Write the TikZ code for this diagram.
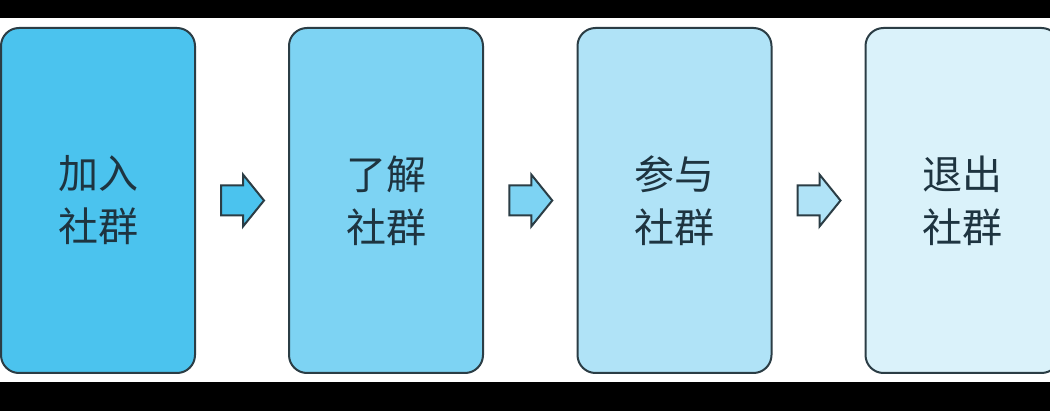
\documentclass[tikz,border=0pt]{standalone}
\usepackage{fontspec}
\newfontfamily\cjk{Noto Sans CJK SC}
\usetikzlibrary{calc}
\definecolor{cA}{HTML}{4BC3EE}
\definecolor{cB}{HTML}{7DD3F3}
\definecolor{cC}{HTML}{B0E3F7}
\definecolor{cD}{HTML}{DAF2FA}
\definecolor{edge}{HTML}{2B3D45}
\definecolor{ink}{HTML}{1E3440}
\tikzset{
  stagebox/.style={draw=edge, line width=2pt, rounded corners=18pt,
    minimum width=194pt, minimum height=345pt, inner sep=0pt,
    text=ink, align=center, font=\cjk\fontsize{40}{53}\selectfont},
  blockarrow/.style={draw=edge, line width=2pt, line join=miter}
}
\begin{document}
\begin{tikzpicture}[x=1pt,y=-1pt]
\fill[white] (0,0) rectangle (1050,411);
\clip (0,0) rectangle (1050,411);
\fill[black] (0,0) rectangle (1050,18);
\fill[black] (0,382) rectangle (1050,411);
\node[stagebox, fill=cA] (b1) at (98,200.5) {加入\\社群};
\node[stagebox, fill=cB] (b2) at (386,200.5) {了解\\社群};
\node[stagebox, fill=cC] (b3) at (674.5,200.5) {参与\\社群};
\node[stagebox, fill=cD] (b4) at (962.5,200.5) {退出\\社群};
\foreach \a/\b/\c in {b1/b2/cA, b2/b3/cB, b3/b4/cC}{
  \coordinate (m) at ($(\a.east)!0.5!(\b.west)$);
  \draw[blockarrow, fill=\c]
    ($(m)+(-21,-15)$) -- ($(m)+(1,-15)$) -- ($(m)+(1,-26)$) -- ($(m)+(22,0)$)
    -- ($(m)+(1,26)$) -- ($(m)+(1,15)$) -- ($(m)+(-21,15)$) -- cycle;
}
\end{tikzpicture}
\end{document}
